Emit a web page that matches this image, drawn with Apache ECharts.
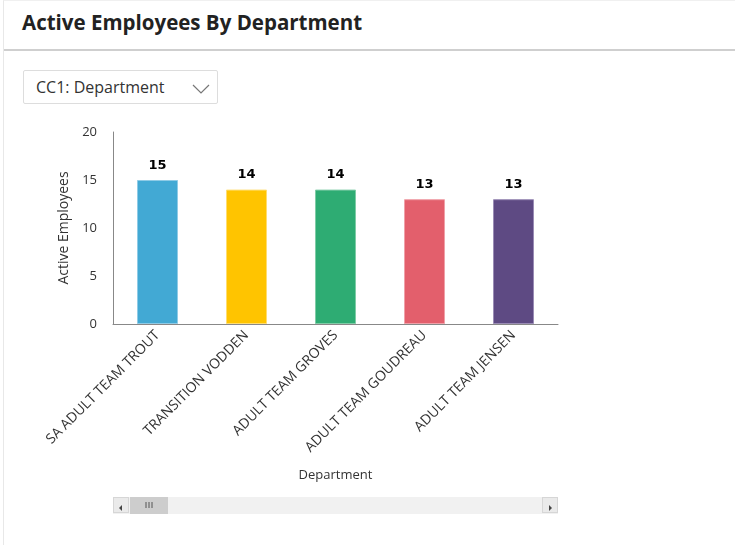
<!DOCTYPE html>
<html>
<head>
<meta charset="utf-8">
<script src="https://cdn.jsdelivr.net/npm/echarts@6/dist/echarts.min.js"></script>
<style>
  html, body { margin:0; padding:0; width:735px; height:545px; background:#fff; overflow:hidden; font-family:"Open Sans", sans-serif; }
  #card { position:absolute; left:3px; top:0; width:740px; height:560px; border-left:1px solid #e8e8e8; border-top:1px solid #f0f0f0; }
  #title { position:absolute; left:22px; top:8px; font-size:20.5px; font-weight:700; color:#222; }
  #sep { position:absolute; left:4px; top:49px; width:735px; height:2px; background:#cfcfcf; }
  #dd { position:absolute; left:23px; top:70px; width:195px; height:34px; border:1px solid #ddd; border-radius:2px; box-sizing:border-box; }
  #dd span { position:absolute; left:12px; top:5px; font-size:16px; color:#333; }
  #dd svg { position:absolute; left:168px; top:12px; }
  #chart { position:absolute; left:0; top:0; width:735px; height:545px; }
  #sb { position:absolute; left:113px; top:497px; width:445px; height:17px; background:#f1f1f1; }
  .btn { position:absolute; top:0; width:16px; height:16px; background:#eaeaea; border:1px solid #d6d6d6; box-sizing:border-box; }
  #thumb { position:absolute; left:17px; top:0; width:38px; height:17px; background:#cdcdcd; }
</style>
</head>
<body>
<div id="card"></div>
<div id="title">Active Employees By Department</div>
<div id="sep"></div>
<div id="dd"><span>CC1: Department</span>
  <svg width="18" height="12" viewBox="0 0 18 12"><polyline points="1,2 9,10 17,2" fill="none" stroke="#777" stroke-width="1.2"/></svg>
</div>
<div id="chart"></div>
<div id="sb">
  <div class="btn" style="left:0"><svg width="14" height="14" viewBox="0 0 14 14"><polygon points="8,4 5,7 8,10" fill="#444"/></svg></div>
  <div id="thumb"><svg width="38" height="17" viewBox="0 0 38 17"><line x1="16" y1="5" x2="16" y2="11" stroke="#555"/><line x1="19" y1="5" x2="19" y2="11" stroke="#555"/><line x1="22" y1="5" x2="22" y2="11" stroke="#555"/></svg></div>
  <div class="btn" style="right:0"><svg width="14" height="14" viewBox="0 0 14 14"><polygon points="6,4 9,7 6,10" fill="#444"/></svg></div>
</div>
<script>
const categories = ["SA ADULT TEAM TROUT", "TRANSITION VODDEN", "ADULT TEAM GROVES", "ADULT TEAM GOUDREAU", "ADULT TEAM JENSEN"];
const values = [15, 14, 14, 13, 13];
const colors = ["#42A9D4", "#FFC400", "#2EAC73", "#E35F6C", "#5E4A83"];
const borders = ["#8fcbe6", "#ffdd70", "#7fcca6", "#f0a0a8", "#9a8cb5"];

const chart = echarts.init(document.getElementById('chart'), null, {renderer:'canvas'});
chart.setOption({
  backgroundColor: 'transparent',
  animation: false,
  textStyle: { fontFamily: 'Open Sans' },
  grid: { left: 113, top: 132, width: 445, height: 192, containLabel: false },
  xAxis: {
    type: 'category',
    data: categories,
    name: 'Department',
    nameLocation: 'middle',
    nameGap: 145,
    nameTextStyle: { fontSize: 13, color: '#333', fontFamily: 'Open Sans' },
    axisLine: { show: true, lineStyle: { color: '#888', width: 1 } },
    axisTick: { show: false },
    axisLabel: { rotate: 45, fontSize: 14, color: '#333', margin: 9, interval: 0, fontFamily: 'Open Sans' }
  },
  yAxis: {
    type: 'value',
    min: 0, max: 20, interval: 5,
    name: 'Active Employees',
    nameLocation: 'middle',
    nameGap: 40,
    nameTextStyle: { fontSize: 14, color: '#333', fontFamily: 'Open Sans' },
    axisLine: { show: true, lineStyle: { color: '#888', width: 1 } },
    axisTick: { show: false },
    splitLine: { show: false },
    axisLabel: { fontSize: 13, color: '#333', margin: 16, fontFamily: 'Open Sans' }
  },
  series: [{
    type: 'bar',
    barWidth: 41,
    data: values.map((v, i) => ({ value: v, itemStyle: { color: colors[i], borderColor: borders[i], borderWidth: 1 } })),
    label: { show: true, position: 'top', distance: 8, fontSize: 13, fontWeight: 'bold', color: '#000', fontFamily: 'DejaVu Sans' }
  }]
});
</script>
</body>
</html>
